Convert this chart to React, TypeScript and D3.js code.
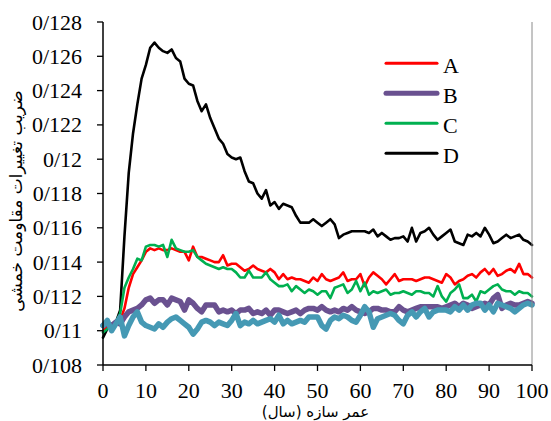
import React from "react";
import * as d3 from "d3";

// Structure age (years) 0..100
const years: number[] = Array.from({ length: 101 }, (_, i) => i);

const seriesA: number[] = [
  0.1100, 0.1102, 0.1103, 0.1104, 0.1106, 0.1113, 0.1125, 0.1133, 0.1137, 0.1141,
  0.1146, 0.1148, 0.1147, 0.1148, 0.1147, 0.1147, 0.1148, 0.1147, 0.1146, 0.1146,
  0.1141, 0.1149, 0.1143, 0.1143, 0.1142, 0.1141, 0.1140, 0.1140, 0.1144, 0.1138,
  0.1139, 0.1139, 0.1137, 0.1135, 0.1136, 0.1138, 0.1136, 0.1135, 0.1134, 0.1136,
  0.1134, 0.1130, 0.1133, 0.1130, 0.1131, 0.1130, 0.1130, 0.1129, 0.1128, 0.1131,
  0.1129, 0.1133, 0.1130, 0.1129, 0.1130, 0.1131, 0.1134, 0.1129, 0.1130, 0.1130,
  0.1133, 0.1126, 0.1131, 0.1134, 0.1132, 0.1130, 0.1127, 0.1130, 0.1133, 0.1129,
  0.1130, 0.1130, 0.1130, 0.1129, 0.1130, 0.1131, 0.1131, 0.1130, 0.1129, 0.1128,
  0.1133, 0.1131, 0.1127, 0.1129, 0.1130, 0.1132, 0.1133, 0.1131, 0.1134, 0.1136,
  0.1133, 0.1136, 0.1132, 0.1133, 0.1135, 0.1136, 0.1134, 0.1139, 0.1133, 0.1133,
  0.1131,
];

const seriesB: number[] = [
  0.1103, 0.1104, 0.1103, 0.1105, 0.1104, 0.1108, 0.1111, 0.1112, 0.1113, 0.1115,
  0.1118, 0.1119, 0.1116, 0.1118, 0.1118, 0.1115, 0.1119, 0.1118, 0.1117, 0.1112,
  0.1118, 0.1116, 0.1113, 0.1111, 0.1115, 0.1115, 0.1115, 0.1111, 0.1112, 0.1111,
  0.1112, 0.1110, 0.1112, 0.1112, 0.1113, 0.1110, 0.1111, 0.1110, 0.1112, 0.1109,
  0.1112, 0.1112, 0.1111, 0.1110, 0.1111, 0.1112, 0.1110, 0.1112, 0.1113, 0.1113,
  0.1112, 0.1114, 0.1112, 0.1111, 0.1112, 0.1111, 0.1113, 0.1112, 0.1114, 0.1112,
  0.1111, 0.1110, 0.1111, 0.1113, 0.1113, 0.1112, 0.1112, 0.1111, 0.1111, 0.1114,
  0.1112, 0.1111, 0.1112, 0.1113, 0.1114, 0.1114, 0.1114, 0.1114, 0.1114, 0.1113,
  0.1114, 0.1115, 0.1116, 0.1114, 0.1116, 0.1115, 0.1113, 0.1114, 0.1115, 0.1116,
  0.1115, 0.1119, 0.1121, 0.1113, 0.1115, 0.1116, 0.1115, 0.1115, 0.1116, 0.1117,
  0.1116,
];

const seriesC: number[] = [
  0.1099, 0.1101, 0.1103, 0.1105, 0.1110, 0.1125, 0.1131, 0.1136, 0.1142, 0.1141,
  0.1149, 0.1150, 0.1150, 0.1149, 0.1150, 0.1143, 0.1153, 0.1148, 0.1147, 0.1146,
  0.1146, 0.1147, 0.1143, 0.1141, 0.1139, 0.1138, 0.1137, 0.1136, 0.1137, 0.1136,
  0.1136, 0.1134, 0.1131, 0.1131, 0.1135, 0.1131, 0.1131, 0.1131, 0.1134, 0.1130,
  0.1128, 0.1126, 0.1126, 0.1127, 0.1123, 0.1126, 0.1124, 0.1122, 0.1124, 0.1123,
  0.1121, 0.1123, 0.1123, 0.1119, 0.1125, 0.1126, 0.1127, 0.1122, 0.1124, 0.1129,
  0.1123, 0.1128, 0.1121, 0.1123, 0.1122, 0.1123, 0.1124, 0.1121, 0.1122, 0.1122,
  0.1123, 0.1122, 0.1121, 0.1123, 0.1123, 0.1122, 0.1122, 0.1120, 0.1126, 0.1120,
  0.1117, 0.1122, 0.1124, 0.1127, 0.1119, 0.1119, 0.1121, 0.1117, 0.1123, 0.1122,
  0.1124, 0.1126, 0.1127, 0.1124, 0.1123, 0.1123, 0.1121, 0.1123, 0.1122, 0.1122,
  0.1120,
];

const seriesD: number[] = [
  0.1096, 0.1101, 0.1104, 0.1105, 0.1112, 0.1155, 0.1192, 0.1215, 0.1232, 0.1247,
  0.1255, 0.1265, 0.1268, 0.1265, 0.1263, 0.1262, 0.1264, 0.1259, 0.1257, 0.1247,
  0.1244, 0.1243, 0.1234, 0.1228, 0.1232, 0.1224, 0.1218, 0.1212, 0.1209, 0.1203,
  0.1201, 0.1200, 0.1201, 0.1193, 0.1187, 0.1186, 0.1180, 0.1177, 0.1182, 0.1173,
  0.1175, 0.1171, 0.1174, 0.1173, 0.1172, 0.1167, 0.1163, 0.1163, 0.1163, 0.1165,
  0.1163, 0.1161, 0.1163, 0.1165, 0.1162, 0.1154, 0.1156, 0.1157, 0.1158, 0.1158,
  0.1158, 0.1158, 0.1157, 0.1159, 0.1155, 0.1157, 0.1155, 0.1153, 0.1154, 0.1154,
  0.1155, 0.1152, 0.1160, 0.1152, 0.1157, 0.1158, 0.1160, 0.1156, 0.1153, 0.1155,
  0.1157, 0.1159, 0.1152, 0.1151, 0.1150, 0.1156, 0.1155, 0.1157, 0.1155, 0.1160,
  0.1156, 0.1151, 0.1152, 0.1154, 0.1156, 0.1154, 0.1155, 0.1156, 0.1153, 0.1152,
  0.1150,
];

// fifth series (drawn in teal, not listed in the legend)
const seriesE: number[] = [
  0.1103, 0.1106, 0.1100, 0.1104, 0.1108, 0.1097, 0.1103, 0.1108, 0.1111, 0.1105,
  0.1103, 0.1102, 0.1101, 0.1104, 0.1102, 0.1105, 0.1107, 0.1108, 0.1106, 0.1104,
  0.1102, 0.1098, 0.1101, 0.1105, 0.1106, 0.1105, 0.1103, 0.1105, 0.1104, 0.1103,
  0.1106, 0.1110, 0.1103, 0.1105, 0.1104, 0.1106, 0.1104, 0.1105, 0.1106, 0.1107,
  0.1105, 0.1109, 0.1104, 0.1106, 0.1104, 0.1105, 0.1106, 0.1105, 0.1108, 0.1108,
  0.1108, 0.1103, 0.1101, 0.1106, 0.1108, 0.1107, 0.1109, 0.1108, 0.1106, 0.1105,
  0.1109, 0.1114, 0.1111, 0.1102, 0.1107, 0.1108, 0.1109, 0.1110, 0.1109, 0.1106,
  0.1104, 0.1109, 0.1111, 0.1108, 0.1111, 0.1113, 0.1108, 0.1111, 0.1112, 0.1112,
  0.1112, 0.1111, 0.1114, 0.1112, 0.1115, 0.1112, 0.1115, 0.1116, 0.1116, 0.1112,
  0.1115, 0.1111, 0.1116, 0.1115, 0.1114, 0.1113, 0.1111, 0.1113, 0.1115, 0.1116,
  0.1115,
];

const xTicks: number[] = [0, 10, 20, 30, 40, 50, 60, 70, 80, 90, 100];
const yTicks: number[] = [0.108, 0.11, 0.112, 0.114, 0.116, 0.118, 0.12, 0.122, 0.124, 0.126, 0.128];
const legendNames: string[] = ["A", "B", "C", "D"];

const xTitle = "عمر سازه (سال)";
const yTitle = "ضریب تغییرات مقاومت خمشی";

const W = 551;
const H = 421;
const plot = { left: 103, right: 532, top: 22, bottom: 365 };

// tick values use "/" as the decimal separator
const fmtY = (v: number) => {
  const s = d3.format(".3f")(v).replace(/0+$/, "");
  return s.replace(".", "/");
};

type Series = { name: string; values: number[]; color: string; width: number };

const drawOrder: Series[] = [
  { name: "D", values: seriesD, color: "#000000", width: 2.6 },
  { name: "A", values: seriesA, color: "#ff0000", width: 2.6 },
  { name: "C", values: seriesC, color: "#00b050", width: 2.6 },
  { name: "B", values: seriesB, color: "#6a5190", width: 5.5 },
  { name: "E", values: seriesE, color: "#4599b4", width: 5.5 },
];

export default function App() {
  const x = d3.scaleLinear().domain([0, 100]).range([plot.left, plot.right]);
  const y = d3.scaleLinear().domain([0.108, 0.128]).range([plot.bottom, plot.top]);

  const line = d3
    .line<number>()
    .x((_, i) => x(years[i]))
    .y((d) => y(d));

  const serif = "'Times New Roman', 'Liberation Serif', serif";
  const byName = (n: string) => drawOrder.find((s) => s.name === n)!;

  return (
    <svg
      width={W}
      height={H}
      style={{ position: "absolute", left: 0, top: 0, background: "#fff" }}
    >
      <rect x={0} y={0} width={W} height={H} fill="#fff" />

      {/* series */}
      {drawOrder.map((s) => (
        <path
          key={s.name}
          d={line(s.values) || ""}
          fill="none"
          stroke={s.color}
          strokeWidth={s.width}
          strokeLinejoin="round"
          strokeLinecap="round"
        />
      ))}

      {/* frame */}
      <line x1={plot.right} x2={plot.right} y1={plot.top} y2={plot.bottom} stroke="#8a8a8a" strokeWidth={1} />
      <line x1={plot.left} x2={plot.left} y1={plot.top} y2={plot.bottom} stroke="#000" strokeWidth={1.5} />
      <line x1={plot.left} x2={plot.right} y1={plot.bottom} y2={plot.bottom} stroke="#000" strokeWidth={1.5} />

      {/* y axis */}
      {yTicks.map((t) => (
        <g key={t}>
          <line x1={plot.left - 6} x2={plot.left} y1={y(t)} y2={y(t)} stroke="#000" strokeWidth={1.3} />
          <text
            x={82}
            y={y(t) + 7.5}
            textAnchor="end"
            fontFamily={serif}
            fontSize={22}
            fill="#000"
          >
            {fmtY(t)}
          </text>
        </g>
      ))}

      {/* x axis */}
      {xTicks.map((t) => (
        <g key={t}>
          <line x1={x(t)} x2={x(t)} y1={plot.bottom} y2={plot.bottom + 6} stroke="#000" strokeWidth={1.3} />
          <text x={x(t)} y={398} textAnchor="middle" fontFamily={serif} fontSize={22} fill="#000">
            {t}
          </text>
        </g>
      ))}

      {/* axis titles */}
      <text
        x={(plot.left + plot.right) / 2 - 2}
        y={417}
        textAnchor="middle"
        direction="rtl"
        fontFamily="'DejaVu Sans', sans-serif"
        fontSize={15}
        fill="#000"
      >
        {xTitle}
      </text>
      <text
        transform={`translate(22, 201) rotate(-90)`}
        textAnchor="middle"
        direction="rtl"
        fontFamily="'DejaVu Sans', sans-serif"
        fontSize={17}
        fill="#000"
      >
        {yTitle}
      </text>

      {/* legend */}
      {legendNames.map((n, i) => {
        const s = byName(n);
        const ly = 63.3 + i * 30;
        return (
          <g key={n}>
            <line
              x1={386}
              x2={437}
              y1={ly}
              y2={ly}
              stroke={s.color}
              strokeWidth={s.width >= 5 ? 5 : 3}
              strokeLinecap="round"
            />
            <text x={443} y={ly + 10} fontFamily={serif} fontSize={22} fill="#000">
              {n}
            </text>
          </g>
        );
      })}
    </svg>
  );
}
